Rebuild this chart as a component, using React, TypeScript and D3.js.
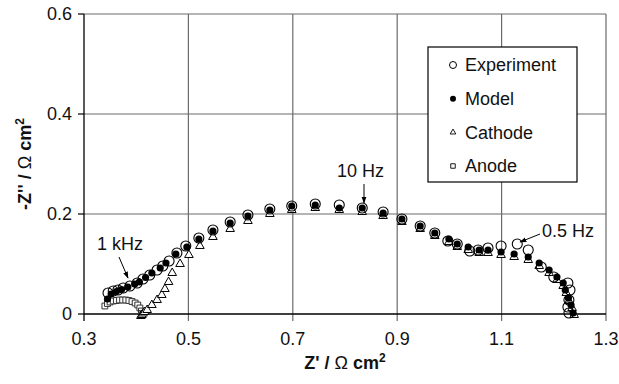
import * as d3 from "d3";

// Nyquist plot: -Z'' vs Z' (Ω cm²)
const xTicks = [0.3, 0.5, 0.7, 0.9, 1.1, 1.3];
const yTicks = [0, 0.2, 0.4, 0.6];

const experiment: [number, number][] = [
  [0.346, 0.042], [0.356, 0.046], [0.365, 0.048], [0.375, 0.052], [0.388, 0.056],
  [0.402, 0.062], [0.413, 0.07], [0.426, 0.078], [0.44, 0.088], [0.451, 0.096],
  [0.463, 0.106], [0.478, 0.122], [0.495, 0.136], [0.52, 0.152], [0.547, 0.168],
  [0.58, 0.184], [0.614, 0.198], [0.656, 0.21], [0.698, 0.216], [0.743, 0.22],
  [0.789, 0.218], [0.833, 0.212], [0.873, 0.204], [0.909, 0.19], [0.944, 0.176],
  [0.972, 0.162], [0.997, 0.146], [1.015, 0.14], [1.039, 0.126], [1.055, 0.128],
  [1.074, 0.132], [1.099, 0.136], [1.13, 0.14], [1.151, 0.128], [1.176, 0.094],
  [1.2, 0.074], [1.227, 0.062], [1.231, 0.048], [1.229, 0.028], [1.227, 0.014],
  [1.229, 0.002],
];

const model: [number, number][] = [
  [0.345, 0.03], [0.352, 0.04], [0.362, 0.045], [0.372, 0.049], [0.384, 0.054],
  [0.397, 0.06], [0.406, 0.064], [0.418, 0.073], [0.43, 0.082], [0.446, 0.092],
  [0.457, 0.102], [0.476, 0.12], [0.497, 0.134], [0.52, 0.15], [0.547, 0.166],
  [0.58, 0.182], [0.614, 0.196], [0.656, 0.208], [0.698, 0.216], [0.743, 0.218],
  [0.789, 0.212], [0.833, 0.212], [0.873, 0.202], [0.909, 0.19], [0.944, 0.176],
  [0.972, 0.162], [0.999, 0.15], [1.015, 0.14], [1.036, 0.134], [1.057, 0.128],
  [1.074, 0.128], [1.099, 0.124], [1.124, 0.12], [1.151, 0.114], [1.172, 0.102],
  [1.191, 0.088], [1.206, 0.074], [1.218, 0.062], [1.222, 0.048], [1.228, 0.032],
  [1.233, 0.018], [1.237, 0.002],
];

const cathode: [number, number][] = [
  [0.409, 0.0], [0.411, 0.002], [0.413, 0.005], [0.416, 0.008], [0.421, 0.012],
  [0.43, 0.022], [0.44, 0.032], [0.449, 0.042], [0.455, 0.054], [0.462, 0.068],
  [0.469, 0.086], [0.484, 0.104], [0.501, 0.122], [0.522, 0.14], [0.547, 0.158],
  [0.58, 0.174], [0.614, 0.19], [0.656, 0.204], [0.698, 0.212], [0.743, 0.216],
  [0.789, 0.212], [0.833, 0.208], [0.873, 0.2], [0.909, 0.188], [0.944, 0.174],
  [0.972, 0.16], [0.999, 0.148], [1.015, 0.138], [1.036, 0.132], [1.057, 0.126],
  [1.074, 0.126], [1.099, 0.122], [1.124, 0.118], [1.151, 0.112], [1.172, 0.1],
  [1.191, 0.086], [1.206, 0.072], [1.218, 0.06], [1.224, 0.046], [1.229, 0.03],
  [1.235, 0.016], [1.239, 0.002],
];

const anode: [number, number][] = [
  [0.34, 0.016], [0.345, 0.021], [0.35, 0.024], [0.356, 0.026], [0.362, 0.027],
  [0.368, 0.028], [0.374, 0.028], [0.38, 0.028], [0.386, 0.027], [0.392, 0.025],
  [0.398, 0.022], [0.403, 0.018], [0.407, 0.012], [0.41, 0.006], [0.411, 0.001],
];

const legendItems = ["Experiment", "Model", "Cathode", "Anode"];

const W = 619;
const H = 384;
const FONT = "'Liberation Sans', Arial, Helvetica, sans-serif";

export default function App() {
  const x = d3.scaleLinear().domain([0.3, 1.3]).range([84, 606]);
  const y = d3.scaleLinear().domain([0, 0.6]).range([314, 14]);
  const [x0, x1] = x.range();
  const [y0, y1] = y.range();

  const tri = d3.symbol(d3.symbolTriangle, 32)()!;
  const sq = d3.symbol(d3.symbolSquare, 34)()!;
  const triL = d3.symbol(d3.symbolTriangle, 14)()!;
  const sqL = d3.symbol(d3.symbolSquare, 20)()!;

  const legendX = 428;
  const legendY = 47;
  const rowY = d3.scalePoint<string>().domain(legendItems).range([65, 166]);

  const symbolFor = (name: string) => {
    if (name === "Experiment") return <circle r={3.5} fill="white" stroke="#000" strokeWidth={1} />;
    if (name === "Model") return <circle r={3} fill="#000" />;
    if (name === "Cathode") return <path d={triL} fill="white" stroke="#000" strokeWidth={0.9} />;
    return <path d={sqL} fill="white" stroke="#000" strokeWidth={0.9} />;
  };

  return (
    <svg width={W} height={H} style={{ position: "absolute", left: 0, top: 0, background: "#fff" }} fontFamily={FONT}>
      <defs>
        <marker id="ah" viewBox="0 0 10 10" refX="9" refY="5" markerWidth="7" markerHeight="7" orient="auto">
          <path d="M0,1.5 L10,5 L0,8.5 z" fill="#000" />
        </marker>
      </defs>

      {/* grid */}
      {yTicks.slice(1).map((t) => (
        <line key={"gy" + t} x1={x0} x2={x1} y1={y(t)} y2={y(t)} stroke="#6b6b6b" strokeWidth={1.2} />
      ))}
      {xTicks.slice(1).map((t) => (
        <line key={"gx" + t} x1={x(t)} x2={x(t)} y1={y1} y2={y0 + 7} stroke="#6b6b6b" strokeWidth={1.2} />
      ))}

      {/* axes */}
      <line x1={x0} x2={x0} y1={y1} y2={y0 + 7} stroke="#000" strokeWidth={1.3} />
      <line x1={x0} x2={x1} y1={y0} y2={y0} stroke="#000" strokeWidth={1.3} />
      {yTicks.map((t) => (
        <g key={"yt" + t}>
          <line x1={x0 - 6} x2={x0} y1={y(t)} y2={y(t)} stroke="#000" strokeWidth={1.2} />
          <text x={x0 - 12} y={y(t)} dy="0.36em" textAnchor="end" fontSize={18} fill="#111">
            {String(t)}
          </text>
        </g>
      ))}
      {xTicks.map((t) => (
        <text key={"xt" + t} x={x(t)} y={345} textAnchor="middle" fontSize={18} fill="#111">
          {String(t)}
        </text>
      ))}

      {/* axis titles */}
      <text x={(x0 + x1) / 2} y={369} textAnchor="middle" fontSize={18} fontWeight="bold" fill="#111">
        Z' / <tspan fontWeight="normal">Ω</tspan> cm
        <tspan fontSize={12} dy={-7}>2</tspan>
      </text>
      <text
        transform={`translate(31,${(y0 + y1) / 2}) rotate(-90)`}
        textAnchor="middle"
        fontSize={18}
        fontWeight="bold"
        fill="#111"
      >
        -Z'' / <tspan fontWeight="normal">Ω</tspan> cm
        <tspan fontSize={12} dy={-7}>2</tspan>
      </text>

      {/* series */}
      {anode.map(([a, b], i) => (
        <path key={"an" + i} d={sq} transform={`translate(${x(a)},${y(b)})`} fill="white" stroke="#333" strokeWidth={1} />
      ))}
      {cathode.map(([a, b], i) => (
        <path key={"ca" + i} d={tri} transform={`translate(${x(a)},${y(b) + 2})`} fill="white" stroke="#000" strokeWidth={1} />
      ))}
      {model.map(([a, b], i) => (
        <circle key={"mo" + i} cx={x(a)} cy={y(b)} r={3.6} fill="#000" />
      ))}
      {experiment.map(([a, b], i) => (
        <circle key={"ex" + i} cx={x(a)} cy={y(b)} r={5} fill="none" stroke="#000" strokeWidth={1.1} />
      ))}

      {/* annotations */}
      <text x={97} y={250} fontSize={18} fill="#111">1 kHz</text>
      <line x1={119} y1={257} x2={128} y2={278} stroke="#000" strokeWidth={1} markerEnd="url(#ah)" />
      <text x={337} y={177} fontSize={18} fill="#111">10 Hz</text>
      <line x1={364} y1={184} x2={364} y2={203} stroke="#000" strokeWidth={1} markerEnd="url(#ah)" />
      <text x={542} y={237} fontSize={18} fill="#111">0.5 Hz</text>
      <line x1={540} y1={234} x2={520} y2={242} stroke="#000" strokeWidth={1} markerEnd="url(#ah)" />

      {/* legend */}
      <rect x={legendX} y={legendY} width={149} height={135} fill="white" stroke="#000" strokeWidth={1.2} />
      {legendItems.map((name) => (
        <g key={name} transform={`translate(0,${rowY(name)})`}>
          <g transform="translate(453,0)">{symbolFor(name)}</g>
          <text x={465} dy="0.36em" fontSize={18} fill="#111">{name}</text>
        </g>
      ))}
    </svg>
  );
}
